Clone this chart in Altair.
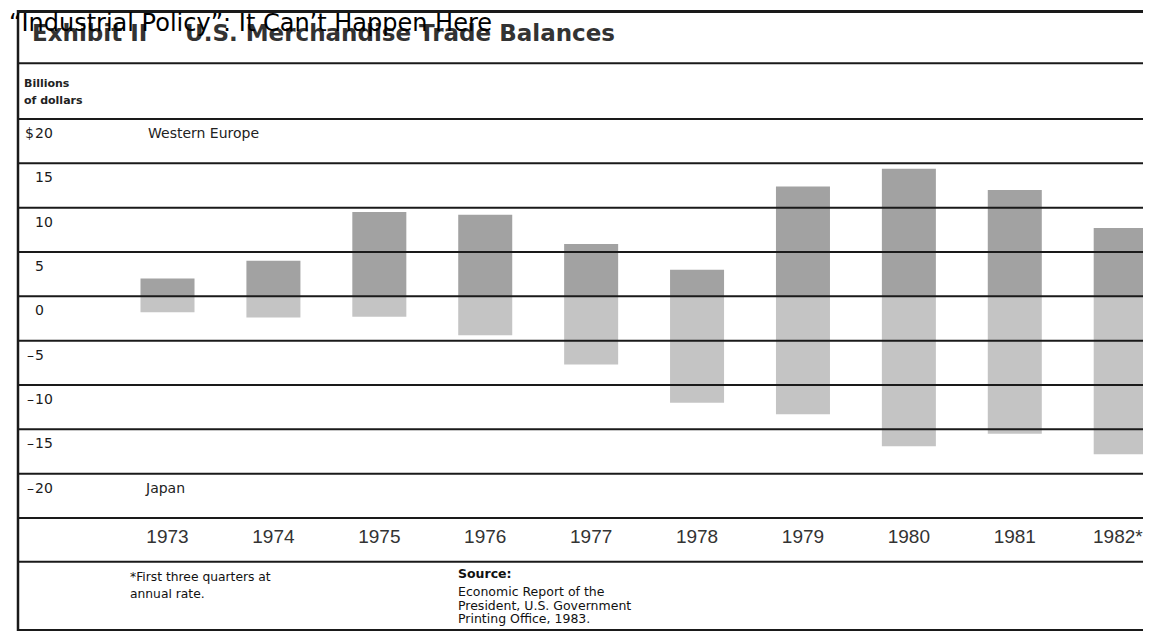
import altair as alt
import pandas as pd

# ---- chart values ----
years = ["1973", "1974", "1975", "1976", "1977", "1978", "1979", "1980", "1981", "1982*"]
western_europe = [2.0, 4.0, 9.5, 9.2, 5.9, 3.0, 12.4, 14.4, 12.0, 7.7]
japan = [-1.8, -2.4, -2.3, -4.4, -7.7, -12.0, -13.3, -16.9, -15.5, -17.8]
regions = ["Western Europe", "Japan"]
grid_values = [20, 15, 10, 5, 0, -5, -10, -15, -20, -25]
tick_values = [20, 15, 10, 5, 0, -5, -10, -15, -20]
tick_numbers = ["20", "15", "10", "5", "0", "5", "10", "15", "20"]
tick_prefixes = ["$", "", "", "", "", "–", "–", "–", "–"]

overlay_title = "“Industrial Policy”: It Can’t Happen Here"
exhibit_label = "Exhibit II"
exhibit_title = "U.S. Merchandise Trade Balances"
unit_lines = ["Billions", "of dollars"]
footnote_lines = ["*First three quarters at", " annual rate."]
source_head = "Source:"
source_lines = ["Economic Report of the", "President, U.S. Government", "Printing Office, 1983."]

# ---- tables ----
bars = pd.DataFrame(
    [{"year": y, "region": regions[0], "value": v} for y, v in zip(years, western_europe)]
    + [{"year": y, "region": regions[1], "value": v} for y, v in zip(years, japan)]
)
grid = pd.DataFrame({"v": grid_values})
ticks = pd.DataFrame({"v": tick_values, "num": tick_numbers, "pre": tick_prefixes})
year_df = pd.DataFrame({"year": years})
last_year = years[-1]

W, H = 1135, 624
LINE = "#1a1a1a"
FONT = "DejaVu Sans"

yscale = alt.Scale(domain=[-25, 20], range=[510, 111], nice=False, zero=False)
xscale = alt.Scale(domain=years, range=[106.55, 1165.65], paddingInner=0.49, paddingOuter=0.245)

one = alt.Data(values=[{}])

bar_layer = alt.Chart(bars).mark_bar().encode(
    x=alt.X("year:N", scale=xscale, axis=None, sort=years),
    y=alt.Y("value:Q", scale=yscale, axis=None),
    color=alt.Color("region:N", scale=alt.Scale(domain=regions, range=["#a2a2a2", "#c4c4c4"]), legend=None),
)

grid_layer = alt.Chart(grid).mark_rule(color=LINE, strokeWidth=2).encode(
    y=alt.Y("v:Q", scale=yscale, axis=None),
    x=alt.value(10),
    x2=alt.value(W),
)

def hline(y, sw=2):
    return alt.Chart(one).mark_rule(color=LINE, strokeWidth=sw).encode(
        x=alt.value(10), x2=alt.value(W), y=alt.value(y)
    )

frame = [
    hline(3.5, 3),
    hline(55.3, 2),
    hline(553.7, 2),
    hline(622, 2),
    alt.Chart(one).mark_rule(color=LINE, strokeWidth=2.5).encode(
        x=alt.value(10), y=alt.value(2), y2=alt.value(623)
    ),
]

tick_num_layer = alt.Chart(ticks).mark_text(
    align="left", baseline="alphabetic", dy=19, font=FONT, fontSize=14, color="#1a1a1a"
).encode(y=alt.Y("v:Q", scale=yscale, axis=None), x=alt.value(27), text="num:N")

tick_pre_layer = alt.Chart(ticks).mark_text(
    align="right", baseline="alphabetic", dy=19, font=FONT, fontSize=14, color="#1a1a1a"
).encode(y=alt.Y("v:Q", scale=yscale, axis=None), x=alt.value(26), text="pre:N")

year_layer = alt.Chart(year_df).transform_filter(
    alt.datum.year != last_year
).mark_text(
    align="center", baseline="alphabetic", font="Liberation Sans", fontSize=19, color="#333333"
).encode(x=alt.X("year:N", scale=xscale, axis=None, sort=years), y=alt.value(535), text="year:N")

last_year_layer = alt.Chart(year_df).transform_filter(
    alt.datum.year == last_year
).mark_text(
    align="right", baseline="alphabetic", font="Liberation Sans", fontSize=19, color="#333333", dx=-5
).encode(
    x=alt.X("year:N", scale=xscale, axis=None, sort=years, bandPosition=1),
    y=alt.value(535), text="year:N",
)

def label(text, x, y, size, weight="normal", color="#222222", font=FONT, line_height=None):
    kw = dict(align="left", baseline="alphabetic", font=font, fontSize=size,
              fontWeight=weight, color=color)
    if line_height is not None:
        kw["lineHeight"] = line_height
    return alt.Chart(one).mark_text(**kw).encode(
        x=alt.value(x), y=alt.value(y), text=alt.value(text)
    )

texts = [
    label(exhibit_label, 24, 33, 23, "bold", "#333333"),
    label(exhibit_title, 177, 33, 23, "bold", "#333333"),
    label(unit_lines, 16, 79, 11, "bold", "#222222", line_height=17),
    label(regions[0], 140, 130, 14),
    label(regions[1], 138, 485, 14),
    label(footnote_lines, 122, 573, 12.3, "normal", "#111111", line_height=17),
    label(source_head, 450, 570, 12.5, "bold", "#111111"),
    label(source_lines, 450, 588, 12.5, "normal", "#111111", line_height=13.5),
    label(overlay_title, 1, 23, 24, "normal", "#000000"),
]

chart = alt.layer(
    bar_layer, grid_layer, *frame, tick_num_layer, tick_pre_layer, year_layer, last_year_layer, *texts
).properties(
    width=W, height=H, padding=0, autosize=alt.AutoSizeParams(type="none"),
    background="white",
).configure_view(stroke=None)

chart.save("out.html", embed_options={"renderer": "svg", "actions": False})
